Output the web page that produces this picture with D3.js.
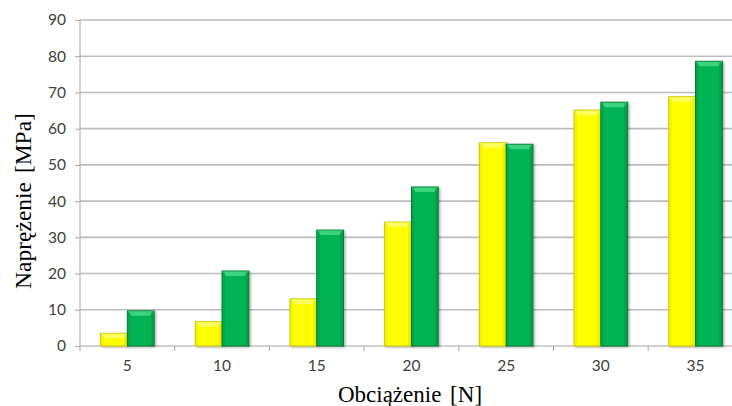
<!DOCTYPE html>
<html><head><meta charset="utf-8">
<script src="https://cdn.jsdelivr.net/npm/d3@7"></script>
<style>body{margin:0;background:#fff}svg{display:block}</style>
</head><body>
<svg id="c" width="732" height="406"></svg>
<script>
const categories = ["5","10","15","20","25","30","35"];
const seriesA = [3.5, 6.7, 13.0, 34.2, 56.1, 65.1, 68.8];
const seriesB = [9.7, 20.7, 32.0, 43.9, 55.7, 67.3, 78.6];
const yTicks = [0,10,20,30,40,50,60,70,80,90];
const xTitle = "Obciążenie [N]";
const yTitle = "Naprężenie [MPa]";

const svg = d3.select("#c");
const L = 80, R = 80 + 94.7*7, T = 20, B = 346;
const x = d3.scaleBand().domain(categories).range([L, R]).paddingInner(0).paddingOuter(0);
const y = d3.scaleLinear().domain([0, 90]).range([B, T]);

const defs = svg.append("defs");
const f = defs.append("filter").attr("id","sh").attr("x","-20%").attr("y","-20%").attr("width","150%").attr("height","150%");
f.append("feDropShadow").attr("dx",1.5).attr("dy",1).attr("stdDeviation",1.2).attr("flood-color","#000").attr("flood-opacity",0.3);

// gridlines
svg.append("g").selectAll("line").data(yTicks.filter(d=>d>0)).join("line")
  .attr("x1", L).attr("x2", 732).attr("y1", d=>y(d)).attr("y2", d=>y(d))
  .attr("stroke", "#bdbdbd").attr("stroke-width", 1.6);

const tickFont = "Lato, 'Open Sans', sans-serif";
// y axis
const yAxis = d3.axisLeft(y).tickValues(yTicks).tickSize(5).tickSizeOuter(0).tickPadding(9);
const gy = svg.append("g").attr("transform", `translate(${L},0)`).call(yAxis);
gy.select(".domain").attr("stroke","#a6a6a6").attr("d", `M0,${T}V${B+5}`);
gy.selectAll(".tick line").attr("stroke","#a6a6a6");
gy.selectAll(".tick text").attr("font-family",tickFont).attr("font-size",15.5).attr("fill","#404040");

// x axis
const xAxis = d3.axisBottom(x).tickSize(0).tickPadding(14);
const gx = svg.append("g").attr("transform", `translate(0,${B})`).call(xAxis);
gx.select(".domain").attr("stroke","#a6a6a6").attr("d", `M${L},0H732`);
gx.selectAll(".tick text").attr("font-family",tickFont).attr("font-size",15.5).attr("fill","#404040");
svg.append("g").selectAll("line").data(categories.slice(1)).join("line")
  .attr("x1", d=>x(d)).attr("x2", d=>x(d)).attr("y1", B).attr("y2", B+5)
  .attr("stroke","#a6a6a6");

// bars
const bw = 26.8;
const series = [
  {vals: seriesA, fill:"#ffff00", edge:"#c9c900", top:"#ffff70", off:-bw},
  {vals: seriesB, fill:"#05b452", edge:"#067a38", top:"#45d985", off:0}
];
series.forEach(s => {
  const g = svg.append("g");
  const data = categories.map((c,i)=>({c, v:s.vals[i]}));
  const gg = g.selectAll("g").data(data).join("g");
  gg.append("rect")
    .attr("x", d => x(d.c) + x.bandwidth()/2 + s.off)
    .attr("y", d => y(d.v)).attr("width", bw).attr("height", d => B - y(d.v))
    .attr("fill", s.fill).attr("stroke", s.edge).attr("stroke-width", 1).attr("filter","url(#sh)");
  gg.append("path").attr("d", d => {
    const x0 = x(d.c) + x.bandwidth()/2 + s.off, y0 = y(d.v), h = Math.min(5, B - y0);
    return `M${x0+0.5},${y0+0.5}H${x0+bw-0.5}L${x0+bw-4},${y0+h}H${x0+4}Z`;
  }).attr("fill", s.top).attr("opacity",0.85);
  gg.append("rect")
    .attr("x", d => x(d.c) + x.bandwidth()/2 + s.off + bw - 3.5)
    .attr("y", d => y(d.v) + 1).attr("width", 3).attr("height", d => Math.max(0, B - y(d.v) - 1))
    .attr("fill", s.edge).attr("opacity", 0.3);
  gg.append("rect")
    .attr("x", d => x(d.c) + x.bandwidth()/2 + s.off + 0.5)
    .attr("y", d => y(d.v) + 1).attr("width", 2.5).attr("height", d => Math.max(0, B - y(d.v) - 1))
    .attr("fill", s.edge).attr("opacity", 0.2);
});

// titles
const serif = "'Liberation Serif', 'Times New Roman', serif";
svg.append("text").attr("x", 410).attr("y", 402).attr("text-anchor","middle")
  .attr("font-family",serif).attr("font-size",23).attr("fill","#000")
  .attr("word-spacing", 3).text(xTitle);
svg.append("text").attr("transform","translate(31,201) rotate(-90)").attr("text-anchor","middle")
  .attr("font-family",serif).attr("font-size",23.5).attr("fill","#000")
  .attr("word-spacing", 3).text(yTitle);
</script>
</body></html>
